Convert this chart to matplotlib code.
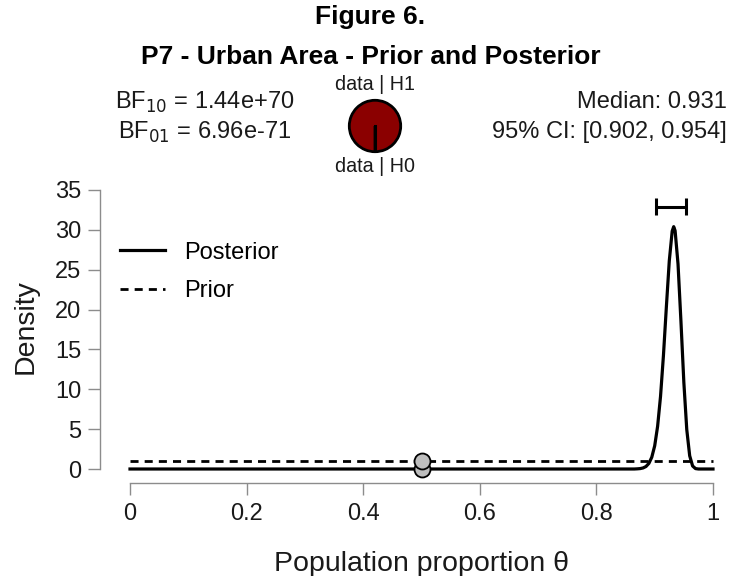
import matplotlib
matplotlib.use("Agg")
import matplotlib.pyplot as plt
from matplotlib.lines import Line2D

# posterior density of theta, zero away from the peak
post_theta = [0.0, 0.865, 0.87, 0.875, 0.88, 0.885, 0.89, 0.895, 0.90, 0.905,
              0.91, 0.915, 0.92, 0.925, 0.93, 0.9326, 0.935, 0.94, 0.945,
              0.95, 0.955, 0.96, 0.965, 0.97, 0.975, 1.0]
post_density = [0.0, 0.0, 0.02, 0.05, 0.13, 0.31, 0.70, 1.48, 2.91, 5.36,
                9.11, 14.25, 20.32, 26.10, 29.84, 30.40, 29.89, 25.72, 18.54,
                10.86, 4.95, 1.66, 0.38, 0.05, 0.0, 0.0]

# uniform prior
prior_theta = [0.0, 1.0]
prior_density = [1.0, 1.0]

test_value = 0.5
bf10 = 1.44e70
bf01 = 6.96e-71
median = 0.931
ci_lower, ci_upper = 0.902, 0.954
ci_height = 32.9

x_ticks = [0, 0.2, 0.4, 0.6, 0.8, 1.0]
x_ticklabels = ["0", "0.2", "0.4", "0.6", "0.8", "1"]
y_ticks = [0, 5, 10, 15, 20, 25, 30, 35]

W, H = 729, 576
plt.rcParams["font.family"] = ["Liberation Sans", "DejaVu Sans"]
TXT = "#1a1a1a"

fig = plt.figure(figsize=(W / 100, H / 100), dpi=100)


def fx(px):
    return px / W


def fy(py):
    return 1 - py / H


ax = fig.add_axes([fx(130), fy(469), fx(713) - fx(130), fy(190) - fy(469)])
ax.set_xlim(0, 1)
ax.set_ylim(0, 35)

ax.plot(post_theta, post_density, color="black", lw=2.3, clip_on=False,
        solid_joinstyle="round", zorder=3)
ax.plot(prior_theta, prior_density, color="black", lw=2.0,
        linestyle=(0, (2.9, 2.2)), clip_on=False, zorder=3)

# densities at the test value
ax.plot([test_value], [1.0 / bf10], "o", ms=11.5, mfc="#BEBEBE", mec="black",
        mew=1.3, clip_on=False, zorder=4)
ax.plot([test_value], [prior_density[0]], "o", ms=11.5, mfc="#BEBEBE",
        mec="black", mew=1.3, clip_on=False, zorder=5)

# credible interval bar
ax.hlines(ci_height, ci_lower, ci_upper, color="black", lw=2.2)
ax.vlines([ci_lower, ci_upper], ci_height - 1.07, ci_height + 1.07,
          color="black", lw=2.2)

for side in ("top", "right"):
    ax.spines[side].set_visible(False)
ax.spines["left"].set_position(("outward", 21.6))
ax.spines["bottom"].set_position(("outward", 10.1))
for side in ("left", "bottom"):
    ax.spines[side].set_color("#8c8c8c")
    ax.spines[side].set_linewidth(1.0)

ax.set_xticks(x_ticks)
ax.set_xticklabels(x_ticklabels)
ax.set_yticks(y_ticks)
ax.tick_params(axis="both", length=8.6, width=1.0, color="#8c8c8c",
               labelsize=17, labelcolor=TXT)
ax.tick_params(axis="x", pad=6)
ax.tick_params(axis="y", pad=5)

fig.text(fx(421), fy(564), "Population proportion \u03b8", fontsize=20.5,
         ha="center", va="center", color=TXT)
fig.text(fx(26), fy(327), "Density", fontsize=20.5, rotation=90,
         ha="center", va="center", color=TXT)

handles = [Line2D([], [], color="black", lw=2.3),
           Line2D([], [], color="black", lw=2.0, linestyle=(0, (2.9, 2.2)))]
ax.legend(handles, ["Posterior", "Prior"], loc="center left",
          bbox_to_anchor=(fx(120), fy(272)), bbox_transform=fig.transFigure,
          frameon=False, fontsize=17, handlelength=1.9, handletextpad=0.8,
          labelspacing=0.7, borderpad=0, borderaxespad=0)

# titles
fig.text(fx(370), fy(17), "Figure 6.", fontsize=19, fontweight="bold",
         ha="center", va="center")
fig.text(fx(371), fy(57), "P7 - Urban Area - Prior and Posterior",
         fontsize=19, fontweight="bold", ha="center", va="center")

# Bayes factors and posterior summary
fig.text(fx(205), fy(102), "BF$_{10}$ = %.2e" % bf10, fontsize=17,
         ha="center", va="center", color=TXT)
fig.text(fx(205), fy(132), "BF$_{01}$ = 6.96e-71", fontsize=17,
         ha="center", va="center", color=TXT)
fig.text(fx(727), fy(102), "Median: %.3f" % median, fontsize=17,
         ha="right", va="center", color=TXT)
fig.text(fx(727), fy(132), "95%% CI: [%.3f, %.3f]" % (ci_lower, ci_upper),
         fontsize=17, ha="right", va="center", color=TXT)

# probability wheel
r = 27
pax = fig.add_axes([fx(375 - r), fy(126 + r), fx(2 * r), fy(0) - fy(2 * r)])
p_h1 = bf10 / (bf10 + 1)
p_h0 = 1 / bf10
pax.pie([p_h1, p_h0], colors=["#8B0000", "white"], startangle=-90,
        counterclock=False,
        wedgeprops=dict(edgecolor="black", linewidth=2.0))
pax.plot([0, 0], [0, -1], color="black", lw=2.2)
pax.set_xlim(-1.05, 1.05)
pax.set_ylim(-1.05, 1.05)
pax.axis("off")
fig.text(fx(375), fy(85), "data | H1", fontsize=14.2, ha="center",
         va="center", color=TXT)
fig.text(fx(375), fy(166), "data | H0", fontsize=14.2, ha="center",
         va="center", color=TXT)

fig.savefig("out.png", dpi=100)
